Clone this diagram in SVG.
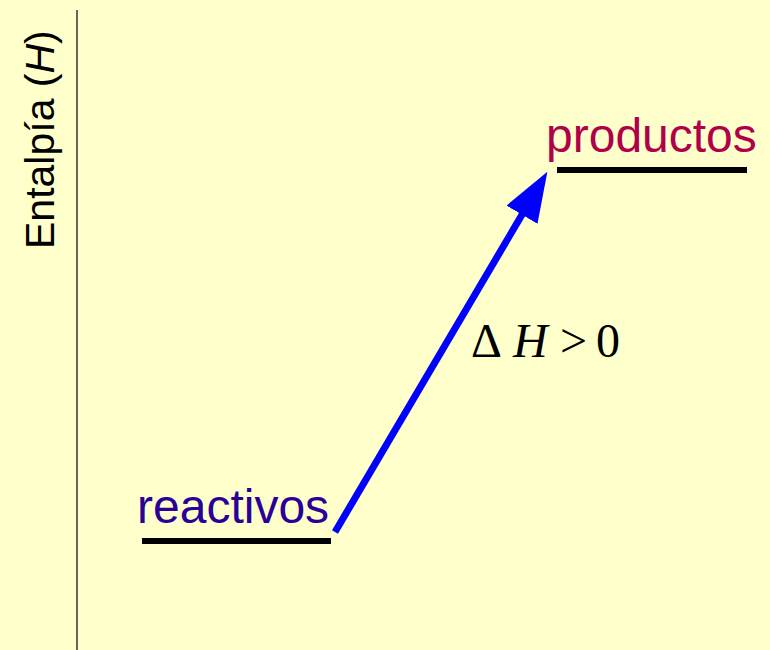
<svg xmlns="http://www.w3.org/2000/svg" width="770" height="650" viewBox="0 0 770 650">
  <style>
    .lbl { font-family: "Liberation Sans", Arial, sans-serif; font-size: 48px; }
    .axis-lbl { font-family: "Liberation Sans", Arial, sans-serif; font-size: 41px; fill: #000; }
    .math { font-family: "Liberation Serif", "Times New Roman", serif; font-size: 48px; fill: #000; }
    .level { stroke: #000; stroke-width: 6; }
  </style>
  <defs>
    <marker id="head" viewBox="0 0 50 36" markerWidth="50" markerHeight="36" refX="2" refY="18" orient="auto" markerUnits="userSpaceOnUse">
      <path d="M0,0 L50,18 L0,36 z" fill="#0000ff"/>
    </marker>
  </defs>
  <rect width="770" height="650" fill="#ffffcc"/>
  <g id="axis">
    <line x1="77" y1="10" x2="77" y2="650" stroke="#333" stroke-width="1.5"/>
    <text class="axis-lbl" transform="translate(54,249) rotate(-90)">Entalpía (<tspan font-style="italic">H</tspan>)</text>
  </g>
  <g id="reactivos">
    <line class="level" x1="142" y1="541" x2="331" y2="541"/>
    <text class="lbl" x="137" y="523" fill="#2a0099">reactivos</text>
  </g>
  <g id="productos">
    <line class="level" x1="557" y1="170" x2="747" y2="170"/>
    <text class="lbl" x="546" y="152" fill="#b0004a">productos</text>
  </g>
  <g id="connectors">
    <line x1="335" y1="532" x2="523" y2="213" stroke="#0000ff" stroke-width="7" marker-end="url(#head)"/>
  </g>
  <g id="label">
    <text class="math" x="471" y="357">Δ</text>
    <text class="math" x="513" y="357" font-style="italic">H</text>
    <text class="math" x="560" y="357">&gt;</text>
    <text class="math" x="596" y="357">0</text>
  </g>
</svg>
